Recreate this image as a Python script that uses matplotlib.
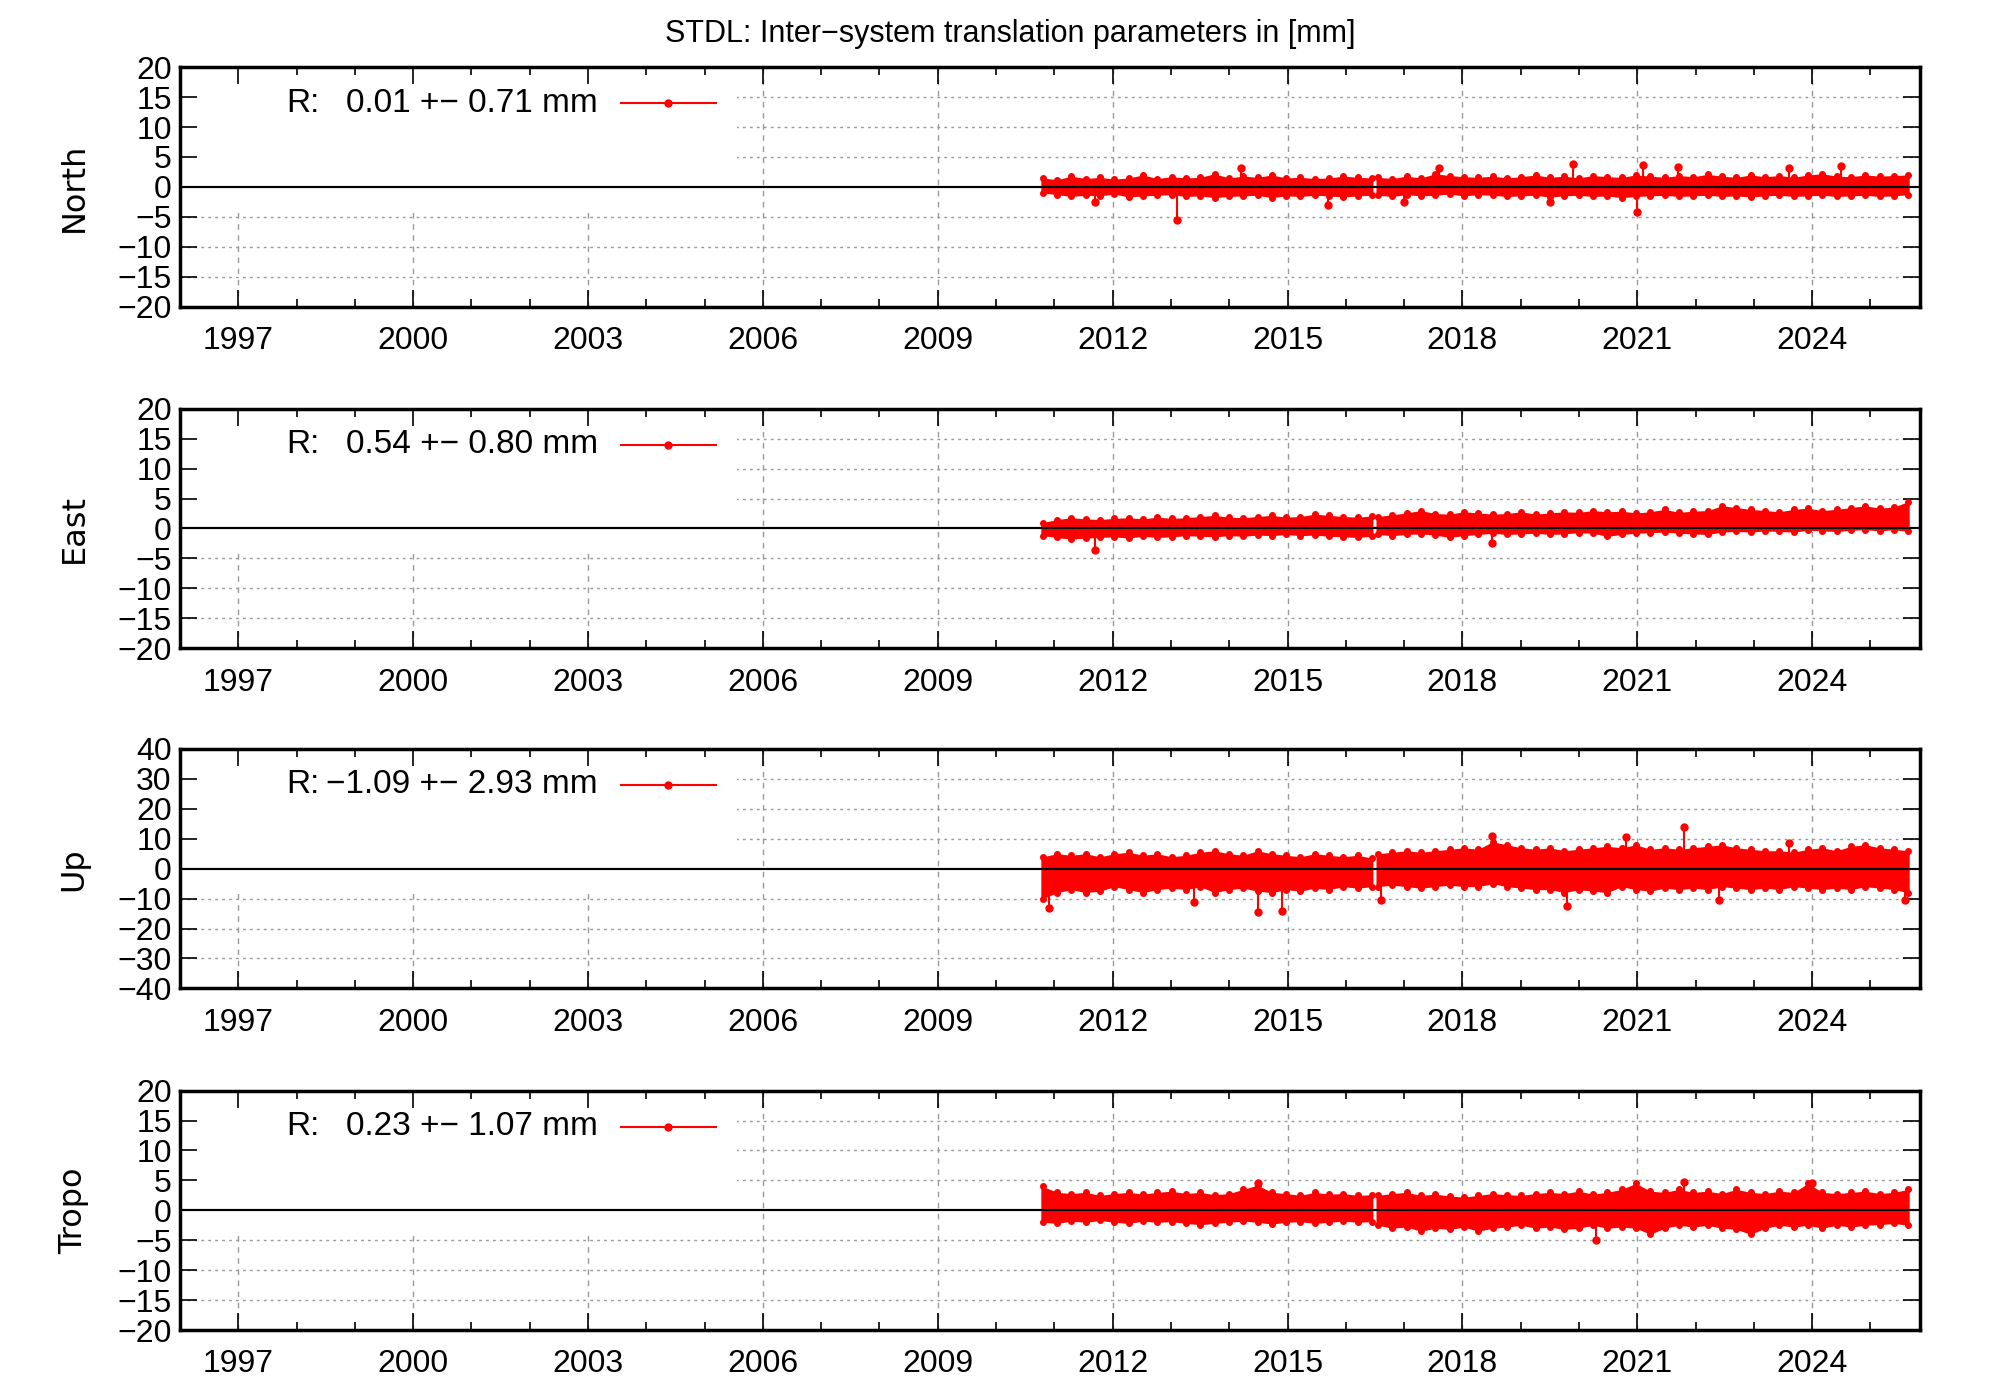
import numpy as np
import matplotlib
matplotlib.use("Agg")
import matplotlib.pyplot as plt
from matplotlib.patches import Rectangle

TITLE = "STDL: Inter\u2212system translation parameters in [mm]"
panels = ["North", "East", "Up", "Tropo"]
legend_vals = ["0.01 +\u2212 0.71 mm", "0.54 +\u2212 0.80 mm", "\u22121.09 +\u2212 2.93 mm", "0.23 +\u2212 1.07 mm"]
ylims = [20, 20, 40, 20]
ysteps = [5, 5, 10, 5]
years = [1997, 2000, 2003, 2006, 2009, 2012, 2015, 2018, 2021, 2024]

t_a = np.linspace(2010.8, 2016.45, 24)
t_b = np.linspace(2016.55, 2025.65, 38)

north_a_hi = [1.5,1.2,1.8,1.4,1.6,1.3,1.5,2.0,1.4,1.7,1.5,1.6,2.2,1.5,1.8,1.6,2.0,1.5,1.6,1.4,1.5,1.8,1.6,1.5]
north_a_lo = [-1.0,-1.3,-1.6,-1.4,-1.5,-1.2,-1.7,-1.5,-1.4,-1.3,-1.6,-1.5,-1.8,-1.6,-1.5,-1.4,-1.8,-1.5,-1.6,-1.4,-1.5,-1.7,-1.5,-1.4]
north_b_hi = [1.6,1.4,1.8,1.5,2.2,1.9,1.7,1.6,1.8,1.5,1.7,2.0,1.6,1.8,1.5,1.9,1.7,1.6,2.0,1.8,1.6,1.9,1.7,2.1,1.8,1.6,2.0,1.7,1.9,1.6,2.0,2.2,1.8,1.7,2.0,1.8,1.9,2.0]
north_b_lo = [-1.4,-1.6,-1.3,-1.5,-1.4,-1.2,-1.5,-1.3,-1.4,-1.6,-1.5,-1.4,-1.7,-1.5,-1.4,-1.6,-1.5,-1.8,-1.6,-1.5,-1.4,-1.6,-1.5,-1.4,-1.6,-1.5,-1.7,-1.5,-1.4,-1.6,-1.5,-1.4,-1.6,-1.5,-1.4,-1.6,-1.5,-1.3]
north_spk_t = [2011.7,2013.1,2014.2,2015.7,2017.0,2017.6,2019.5,2019.9,2021.0,2021.1,2021.7,2023.6,2024.5]
north_spk_v = [-2.5,-5.5,3.2,-3.0,-2.5,3.2,-2.5,3.8,-4.2,3.6,3.4,3.2,3.5]

east_a_hi = [1.0,1.5,1.8,1.6,1.5,1.7,1.8,1.6,1.9,1.7,1.8,2.0,2.2,1.9,1.8,2.0,2.2,1.9,2.0,2.4,2.2,2.0,1.9,2.1]
east_a_lo = [-1.2,-1.5,-1.8,-1.6,-1.5,-1.4,-1.6,-1.3,-1.5,-1.4,-1.2,-1.3,-1.4,-1.2,-1.3,-1.1,-1.2,-1.0,-1.2,-1.1,-1.3,-1.4,-1.5,-1.3]
east_b_hi = [2.0,2.3,2.6,3.0,2.5,2.4,2.8,2.6,2.4,2.5,2.8,2.4,2.6,2.8,2.7,3.0,2.8,2.9,2.6,2.8,3.2,2.7,2.9,3.0,3.8,3.5,3.2,3.0,2.8,3.2,3.4,3.0,3.2,3.5,3.8,3.4,3.6,4.5]
east_b_lo = [-1.0,-1.2,-1.0,-0.9,-1.1,-1.5,-1.2,-1.0,-0.8,-1.0,-0.9,-0.8,-1.0,-0.9,-0.7,-0.8,-1.3,-1.0,-0.8,-0.7,-0.6,-0.8,-0.9,-1.0,-0.6,-0.5,-0.6,-0.4,-0.5,-0.6,-0.3,-0.4,-0.5,-0.3,-0.2,-0.4,-0.2,-0.5]
east_spk_t = [2011.7,2018.5]
east_spk_v = [-3.6,-2.5]

up_a_hi = [4,5,4.5,5,4,5,5.5,4.5,5,4,4.5,5.5,6,5,4.5,6,5,4.5,4,5,4.5,4,4.5,3.5]
up_a_lo = [-10,-8,-7,-8,-7.5,-6,-7,-8,-7,-6.5,-7,-6,-8,-7,-6.5,-7.5,-8,-7,-7.5,-6.5,-7,-6,-6.5,-6]
up_b_hi = [5,5.5,6,5.5,6,6.5,7,6.5,9,8,7,6.5,7,6,6.5,7,7.5,7,8,6.5,7,6.5,7,7.5,8,7,6.5,6,6,5.5,6.5,7,6,7.5,8,7,6.5,6]
up_b_lo = [-6,-5.5,-6,-6.5,-6,-5.5,-6,-6,-5,-6,-6.5,-7,-7,-8,-7,-7.5,-8,-6,-7,-7.5,-6.5,-7,-6.5,-7,-6,-6.5,-7,-6.5,-7,-6,-6.5,-7,-6.5,-7,-6,-6.5,-7,-8]
up_spk_t = [2010.9,2013.4,2014.5,2014.9,2016.6,2018.5,2019.8,2020.8,2021.8,2022.4,2023.6,2025.6]
up_spk_v = [-13,-11,-14.5,-14,-10.5,11,-12.5,10.5,14,-10.5,8.5,-10.5]

tropo_a_hi = [4,3,2.8,3,2.5,2.8,3,2.7,3,3.2,2.8,3,2.6,2.8,3.5,4.2,3,2.8,2.5,3,2.7,2.8,2.5,2.6]
tropo_a_lo = [-2,-2.2,-1.8,-2,-1.7,-2,-2.2,-1.8,-2,-1.9,-2.2,-2.4,-2.2,-2,-1.8,-2,-2.3,-2,-1.9,-2.2,-2,-1.8,-2,-1.9]
tropo_b_hi = [2.5,2.8,3,2.5,2.7,2.4,2.2,2.5,2.8,2.6,2.5,2.8,3,2.8,3.2,2.7,3,3.5,4.5,3.2,3,3.5,3,3.2,2.8,3.5,3,2.8,3.2,3,4.5,3,2.8,3,3.2,2.8,3,3.5]
tropo_b_lo = [-2.5,-3,-2.8,-3.5,-3,-3.2,-2.8,-3.5,-3,-2.8,-2.5,-3,-2.8,-3.2,-3,-2.5,-3,-2.8,-3,-4,-3,-2.5,-2.8,-2.5,-3,-3.2,-4,-3,-2.5,-2.8,-2.5,-3,-2.5,-2.8,-2.5,-2.4,-2.2,-2.5]
tropo_spk_t = [2014.5,2020.3,2021.8,2024.0]
tropo_spk_v = [4.5,-5,4.8,4.5]

data = [
    (north_a_hi, north_a_lo, north_b_hi, north_b_lo, north_spk_t, north_spk_v),
    (east_a_hi, east_a_lo, east_b_hi, east_b_lo, east_spk_t, east_spk_v),
    (up_a_hi, up_a_lo, up_b_hi, up_b_lo, up_spk_t, up_spk_v),
    (tropo_a_hi, tropo_a_lo, tropo_b_hi, tropo_b_lo, tropo_spk_t, tropo_spk_v),
]

FONT = "Liberation Sans"
RED = "#ff0000"
fig = plt.figure(figsize=(20, 14), dpi=100)
fig.text(0.505, 0.976, TITLE, ha="center", va="center", fontsize=22, family=FONT)

left, right = 0.090, 0.960
bottoms = [0.781, 0.537, 0.294, 0.050]
h = 0.171
for i, name in enumerate(panels):
    ax = fig.add_axes([left, bottoms[i], right - left, h])
    lim = ylims[i]; st = ysteps[i]
    ax.set_xlim(1996.0, 2025.85)
    ax.set_ylim(-lim, lim)
    ax.set_yticks(np.arange(-lim, lim + 0.1, st))
    ax.set_xticks(years)
    ax.set_xticks(np.arange(1996, 2026), minor=True)
    ax.tick_params(axis="both", which="both", direction="in", top=True, right=True,
                   labelsize=23, width=1.2)
    ax.tick_params(which="major", length=12)
    ax.tick_params(which="minor", length=6)
    ax.tick_params(axis="x", pad=14)
    ax.tick_params(axis="y", pad=6)
    ax.set_yticklabels([str(v).replace("-", "\u2212") for v in range(-lim, lim + 1, st)])
    for lab in ax.get_xticklabels() + ax.get_yticklabels():
        lab.set_family(FONT)
    for s in ax.spines.values():
        s.set_linewidth(2.5)
    ax.set_ylabel(name, fontsize=23, family="DejaVu Sans", labelpad=20)
    for y in np.arange(-lim + st, lim, st):
        if y != 0:
            ax.axhline(y, color="#999999", lw=1.0, ls=(0, (2, 3)), zorder=0)
    for x in years:
        ax.axvline(x, color="#999999", lw=1.0, ls=(0, (4, 4)), zorder=0)
    ax.add_patch(Rectangle((1996.0, -0.75 * st), 2005.55 - 1996.0, lim + 0.75 * st,
                           facecolor="white", edgecolor="none", zorder=1))
    ax.axhline(0, color="black", lw=1.5, zorder=2)

    ahi, alo, bhi, blo, sk_t, sk_v = data[i]
    for tt, hi, lo in ((t_a, ahi, alo), (t_b, bhi, blo)):
        ax.fill_between(tt, lo, hi, color=RED, lw=0, zorder=3)
        xs = np.repeat(tt, 2)
        ys = np.column_stack([hi, lo]).ravel()
        ax.plot(xs, ys, color=RED, lw=2, marker="o", ms=4, zorder=3)
    for t, v in zip(sk_t, sk_v):
        ax.plot([t, t], [0, v], color=RED, lw=1.5, zorder=3)
        ax.plot([t], [v], "o", color=RED, ms=5, zorder=3)
    ax.axhline(0, color="black", lw=1.5, zorder=4)

    ly = lim * 0.7
    ax.text(1997.83, ly, "R:", fontsize=24, family=FONT, va="center", ha="left", zorder=5)
    ax.text(2003.17, ly, legend_vals[i], fontsize=24, family=FONT, va="center", ha="right", zorder=5)
    ax.plot([2003.56, 2005.2], [ly, ly], color=RED, lw=1.5, zorder=5)
    ax.plot([2004.38], [ly], "o", color=RED, ms=5, zorder=5)

fig.savefig("out.png", dpi=100)
